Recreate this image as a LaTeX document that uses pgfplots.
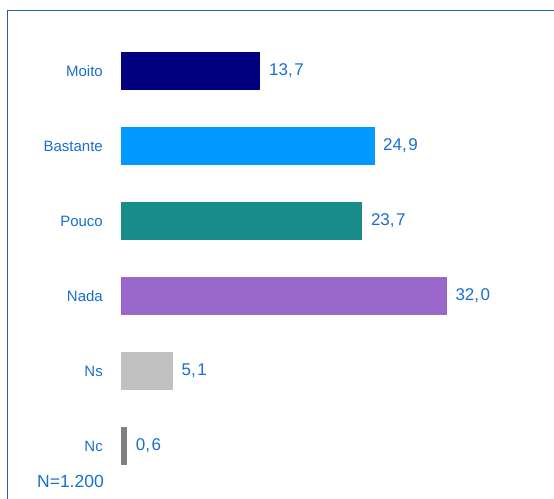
\documentclass[border=0pt]{standalone}
\usepackage{pgfplots}
\pgfplotsset{compat=1.18}
\usepackage{fontspec}
\setmainfont{Liberation Sans}

\definecolor{txtblue}{RGB}{25,110,210}
\definecolor{frameblue}{RGB}{30,95,180}
\definecolor{cMoito}{RGB}{0,0,128}
\definecolor{cBastante}{RGB}{0,153,255}
\definecolor{cPouco}{RGB}{24,140,136}
\definecolor{cNada}{RGB}{153,102,204}
\definecolor{cNs}{RGB}{192,192,192}
\definecolor{cNc}{RGB}{128,128,128}

\begin{document}
\begin{tikzpicture}
    \useasboundingbox (0,0) rectangle (554bp,499bp);
    \begin{axis}[
            at={(7bp,0bp)}, anchor=south west,
            scale only axis,
            width=547bp, height=488bp,
            xbar, bar width=38bp, bar shift=0pt,
            xmin=-11.2, xmax=42.53,
            ymin=-0.8, ymax=5.707,
            y dir=reverse,
            axis line style={draw=none},
            major tick length=0pt,
            xtick=\empty,
            ytick={0,1,2,3,4,5},
            yticklabels={Moito,Bastante,Pouco,Nada,Ns,Nc},
            yticklabel style={anchor=east, inner sep=0pt, xshift=96bp,
                font=\fontsize{15bp}{17bp}\selectfont, text=txtblue},
            point meta=explicit symbolic,
            nodes near coords,
            nodes near coords style={anchor=west, inner sep=0pt, xshift=8.5bp,
                font=\fontsize{17bp}{19bp}\selectfont, text=txtblue},
            clip=false,
        ]
        \addplot[draw=none, fill=cMoito] coordinates {(13.7,0) [13,\kern1.5bp 7]};
        \addplot[draw=none, fill=cBastante] coordinates {(24.9,1) [24,\kern1.5bp 9]};
        \addplot[draw=none, fill=cPouco] coordinates {(23.7,2) [23,\kern1.5bp 7]};
        \addplot[draw=none, fill=cNada] coordinates {(32.0,3) [32,\kern1.5bp 0]};
        \addplot[draw=none, fill=cNs] coordinates {(5.1,4) [5,\kern1.5bp 1]};
        \addplot[draw=none, fill=cNc] coordinates {(0.6,5) [0,\kern1.5bp 6]};
    \end{axis}
    \draw[frameblue, line width=1bp] (7bp,0bp) -- (7bp,488bp) -- (554bp,488bp);
    \node[anchor=base east, inner sep=0pt, text=txtblue,
        font=\fontsize{17.5bp}{19bp}\selectfont] at (104bp,12bp) {N=1.200};
\end{tikzpicture}
\end{document}
